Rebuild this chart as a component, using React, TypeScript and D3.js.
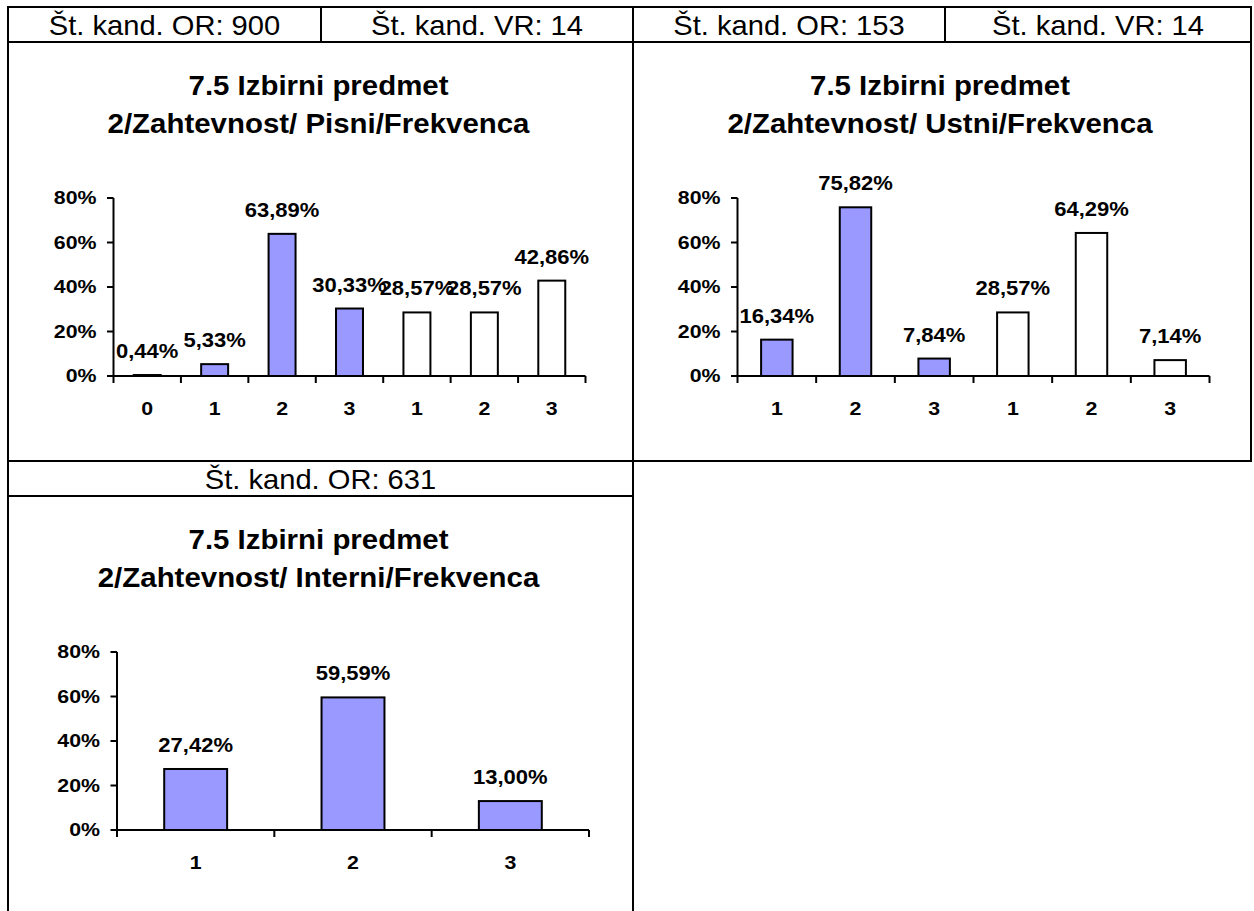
import React from 'react';
import * as d3 from 'd3';

// Pisni (written) exam
const pisniOrCats = ['0', '1', '2', '3'];
const pisniOrValues = [0.44, 5.33, 63.89, 30.33];
const pisniVrCats = ['1', '2', '3'];
const pisniVrValues = [28.57, 28.57, 42.86];

// Ustni (oral) exam
const ustniOrCats = ['1', '2', '3'];
const ustniOrValues = [16.34, 75.82, 7.84];
const ustniVrCats = ['1', '2', '3'];
const ustniVrValues = [28.57, 64.29, 7.14];

// Interni (internal) part
const interniOrCats = ['1', '2', '3'];
const interniOrValues = [27.42, 59.59, 13.0];

const yTicks = [0, 20, 40, 60, 80];

const titleLine1 = '7.5 Izbirni predmet';
const titlePisni = '2/Zahtevnost/ Pisni/Frekvenca';
const titleUstni = '2/Zahtevnost/ Ustni/Frekvenca';
const titleInterni = '2/Zahtevnost/ Interni/Frekvenca';

const FONT = "'Liberation Sans', Arial, Helvetica, sans-serif";
const OR_FILL = '#9999FF';
const VR_FILL = '#FFFFFF';

const fmt = (v: number) => d3.format('.2f')(v).replace('.', ',') + '%';

interface STextProps {
  x: number;
  y: number;
  size: number;
  sx?: number;
  bold?: boolean;
  anchor?: 'start' | 'middle' | 'end';
  children: React.ReactNode;
}

// text that is stretched horizontally like the scanned Excel output
const SText: React.FC<STextProps> = ({ x, y, size, sx = 1, bold, anchor = 'middle', children }) => (
  <text
    transform={`translate(${x},${y}) scale(${sx},1)`}
    fontSize={size}
    fontWeight={bold ? 'bold' : 'normal'}
    textAnchor={anchor}
    fontFamily={FONT}
    fill="#000"
  >
    {children}
  </text>
);

interface PanelProps {
  left: number;
  top: number; // bottom of the header row
  width: number;
  axisLeft: number;
  titleLines: string[];
  orCats: string[];
  orValues: number[];
  vrCats?: string[];
  vrValues?: number[];
}

const BarPanel: React.FC<PanelProps> = ({
  left, top, width, axisLeft, titleLines, orCats, orValues, vrCats = [], vrValues = [],
}) => {
  const cats = [...orCats, ...vrCats];
  const vals = [...orValues, ...vrValues];
  const idx = cats.map((_, i) => i);

  const x0 = left + axisLeft;
  const x1 = x0 + 472;
  const y = d3.scaleLinear().domain([0, 80]).range([top + 334, top + 156]);
  const x = d3.scaleBand<number>().domain(idx).range([x0, x1]).paddingInner(0.6).paddingOuter(0.3);
  const step = x.step();
  const cx = left + width / 2 - 2;

  return (
    <g>
      {titleLines.map((t, i) => (
        <SText key={i} x={cx} y={top + 53 + i * 38} size={27} sx={1.09} bold>
          {t}
        </SText>
      ))}

      {/* bars */}
      {vals.map((v, i) => (
        <rect
          key={i}
          x={x(i)}
          y={y(v)}
          width={x.bandwidth()}
          height={y(0) - y(v)}
          fill={i < orValues.length ? OR_FILL : VR_FILL}
          stroke="#000"
          strokeWidth={2}
        />
      ))}

      {/* y axis */}
      <line x1={x0} x2={x0} y1={y(80)} y2={y(0)} stroke="#000" strokeWidth={2} />
      {yTicks.map((t) => (
        <g key={t}>
          <line x1={x0 - 6.5} x2={x0} y1={y(t)} y2={y(t)} stroke="#000" strokeWidth={2} />
          <SText x={x0 - 17} y={y(t) + 6.3} size={17.5} sx={1.22} bold anchor="end">
            {`${t}%`}
          </SText>
        </g>
      ))}

      {/* x axis */}
      <line x1={x0} x2={x1} y1={y(0)} y2={y(0)} stroke="#000" strokeWidth={2} />
      {d3.range(cats.length + 1).map((i) => (
        <line
          key={i}
          x1={x0 + i * step}
          x2={x0 + i * step}
          y1={y(0)}
          y2={y(0) + 7}
          stroke="#000"
          strokeWidth={2}
        />
      ))}
      {cats.map((c, i) => (
        <SText key={i} x={(x(i) ?? 0) + x.bandwidth() / 2} y={y(0) + 39} size={17.5} sx={1.22} bold>
          {c}
        </SText>
      ))}

      {/* data labels */}
      {vals.map((v, i) => (
        <SText key={i} x={(x(i) ?? 0) + x.bandwidth() / 2} y={y(v) - 17} size={20} sx={1.1} bold>
          {fmt(v)}
        </SText>
      ))}
    </g>
  );
};

const App: React.FC = () => {
  const W = 1254;
  const H = 911;
  const L = 8;
  const R = 1251;
  const T = 7;
  const colX = 633;
  const row1 = 42;
  const row2 = 461;
  const row3 = 496;
  const lineProps = { stroke: '#000', strokeWidth: 2 };

  return (
    <div style={{ position: 'absolute', left: 0, top: 0, background: '#fff' }}>
      <svg width={W} height={H} style={{ display: 'block' }}>
        <rect width={W} height={H} fill="#fff" />

        {/* table grid */}
        <line x1={L - 1} x2={R + 1} y1={T} y2={T} {...lineProps} />
        <line x1={L} x2={R} y1={row1} y2={row1} {...lineProps} />
        <line x1={L} x2={R} y1={row2} y2={row2} {...lineProps} />
        <line x1={L} x2={colX} y1={row3} y2={row3} {...lineProps} />
        <line x1={L} x2={L} y1={T} y2={H} {...lineProps} />
        <line x1={colX} x2={colX} y1={T} y2={H} {...lineProps} />
        <line x1={R} x2={R} y1={T} y2={row2 + 1} {...lineProps} />
        <line x1={321} x2={321} y1={T} y2={row1} {...lineProps} />
        <line x1={945} x2={945} y1={T} y2={row1} {...lineProps} />

        {/* header cells */}
        <SText x={(L + 321) / 2} y={35} size={28} sx={1.04}>Št. kand. OR: 900</SText>
        <SText x={(321 + colX) / 2} y={35} size={28} sx={1.04}>Št. kand. VR: 14</SText>
        <SText x={(colX + 945) / 2} y={35} size={28} sx={1.04}>Št. kand. OR: 153</SText>
        <SText x={(945 + R) / 2} y={35} size={28} sx={1.04}>Št. kand. VR: 14</SText>
        <SText x={(L + colX) / 2} y={489} size={28} sx={1.04}>Št. kand. OR: 631</SText>

        <BarPanel
          left={L}
          top={row1}
          width={colX - L}
          axisLeft={105.5}
          titleLines={[titleLine1, titlePisni]}
          orCats={pisniOrCats}
          orValues={pisniOrValues}
          vrCats={pisniVrCats}
          vrValues={pisniVrValues}
        />
        <BarPanel
          left={colX}
          top={row1}
          width={R - colX}
          axisLeft={104.5}
          titleLines={[titleLine1, titleUstni]}
          orCats={ustniOrCats}
          orValues={ustniOrValues}
          vrCats={ustniVrCats}
          vrValues={ustniVrValues}
        />
        <BarPanel
          left={L}
          top={row3}
          width={colX - L}
          axisLeft={109}
          titleLines={[titleLine1, titleInterni]}
          orCats={interniOrCats}
          orValues={interniOrValues}
        />
      </svg>
    </div>
  );
};

export default App;
